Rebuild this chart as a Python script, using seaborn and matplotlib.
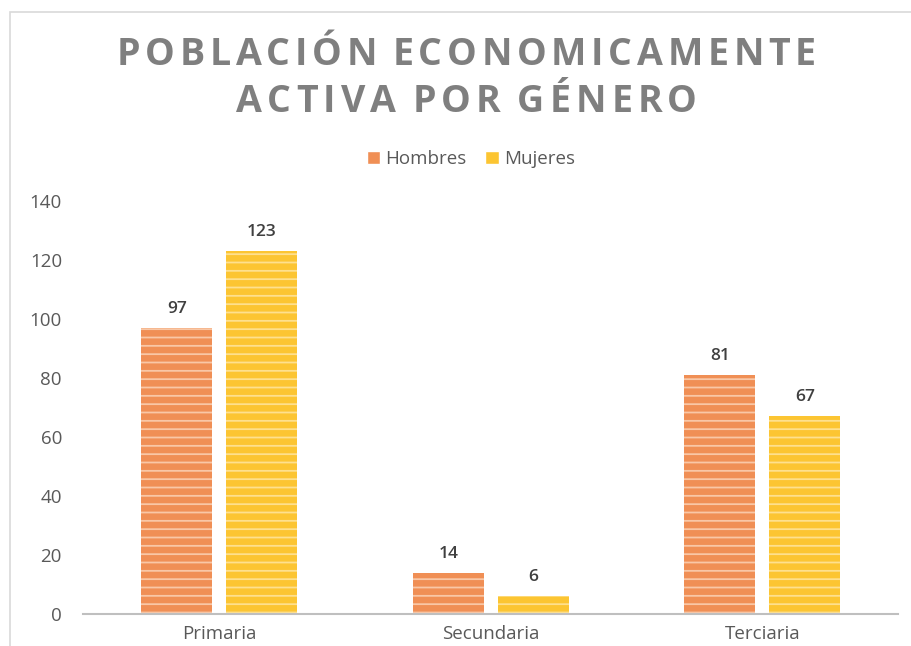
import matplotlib
matplotlib.use("Agg")
import matplotlib.pyplot as plt
import seaborn as sns
import pandas as pd
from matplotlib.patches import Rectangle, Patch

categories = ["Primaria", "Secundaria", "Terciaria"]
hombres = [97, 14, 81]
mujeres = [123, 6, 67]
series_names = ["Hombres", "Mujeres"]
title_lines = ["POBLACIÓN ECONOMICAMENTE", "ACTIVA POR GÉNERO"]

df = pd.DataFrame({
    "cat": categories * 2,
    "val": hombres + mujeres,
    "serie": [series_names[0]] * 3 + [series_names[1]] * 3,
})

sns.set_theme(style="white")
plt.rcParams["font.family"] = ["Open Sans", "DejaVu Sans"]
plt.rcParams["hatch.linewidth"] = 1.3

W, H = 912, 646
fig = plt.figure(figsize=(W / 100, H / 100), dpi=100)
ax = fig.add_axes([83.5 / W, 1 - 614 / H, (898 - 83.5) / W, (614 - 201) / H])

colors = {"Hombres": "#F08F55", "Mujeres": "#FCC532"}
stripe = {"Hombres": "#F9C7A6", "Mujeres": "#FEE08E"}
sns.barplot(data=df, x="cat", y="val", hue="serie", palette=colors,
            ax=ax, width=0.627, gap=0.165, legend=False, saturation=1)

for cont, name in zip(ax.containers, series_names):
    for p in cont:
        p.set_hatch("--")
        p.set_edgecolor(stripe[name])
        p.set_linewidth(0)
    ax.bar_label(cont, padding=8, fontsize=12.5, fontweight="semibold", color="#404040")

ax.set_ylim(0, 140)
ax.set_xlim(-0.5, 2.5)
ax.set_yticks(range(0, 141, 20))
ax.set_xlabel("")
ax.set_ylabel("")
ax.tick_params(axis="both", length=0, labelsize=13.5, colors="#595959")
ax.tick_params(axis="y", pad=15.5)
ax.tick_params(axis="x", pad=8)
for s in ["top", "right", "left"]:
    ax.spines[s].set_visible(False)
ax.spines["bottom"].set_color("#BFBFBF")
ax.spines["bottom"].set_linewidth(1.5)

handles = [Patch(facecolor=colors[n]) for n in series_names]
fig.legend(handles, series_names, loc="center", bbox_to_anchor=(471 / W, 1 - 159 / H),
           ncol=2, frameon=False, fontsize=13.5, handlelength=0.7, handleheight=0.7,
           handletextpad=0.3, columnspacing=1.0, labelcolor="#595959")

# letter-spaced title
renderer = fig.canvas.get_renderer()
tkw = dict(fontsize=27, fontweight="bold", color="#7F7F7F", va="center", ha="left")


def text_width(s):
    t = fig.text(0, 0, s, **tkw)
    w = t.get_window_extent(renderer).width
    t.remove()
    return w


space_w = 0.6 * (text_width("I I") - text_width("II"))


def spaced_title(s, x0, x1, yc):
    widths = [space_w if ch == " " else text_width(ch) for ch in s]
    gap = ((x1 - x0) - sum(widths)) / (len(s) - 1)
    x = x0
    for ch, w in zip(s, widths):
        if ch != " ":
            fig.text(x / W, 1 - yc / H, ch, **tkw)
        x += w + gap


spaced_title(title_lines[0], 117, 816, 55)
spaced_title(title_lines[1], 236, 697, 102)

fig.patches.append(Rectangle((10 / W, -0.1), 1.0, 1 - 12 / H + 0.1, transform=fig.transFigure,
                             fill=False, edgecolor="#D9D9D9", linewidth=1.2))

fig.savefig("out.png", dpi=100)
